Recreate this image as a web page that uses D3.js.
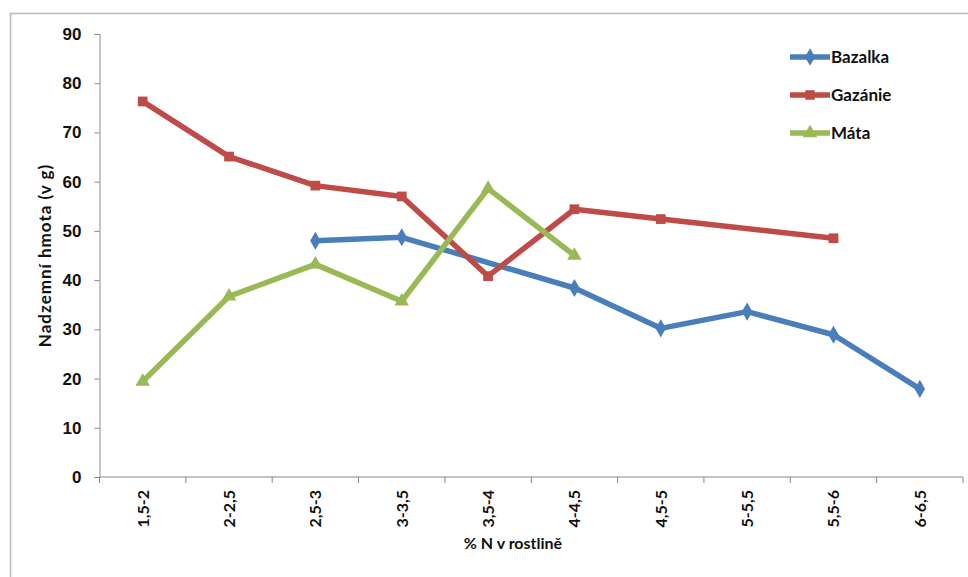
<!DOCTYPE html>
<html>
<head>
<meta charset="utf-8">
<script src="https://cdn.jsdelivr.net/npm/d3@7/dist/d3.min.js"></script>
<style>
  html, body { margin: 0; padding: 0; background: #fff; }
  svg { display: block; font-family: Lato, "Open Sans", sans-serif; font-weight: bold; }
</style>
</head>
<body>
<svg id="chart" width="968" height="577"></svg>
<script>
// Categories: nitrogen content ranges in the plant
const categories = ["1,5-2", "2-2,5", "2,5-3", "3-3,5", "3,5-4", "4-4,5", "4,5-5", "5-5,5", "5,5-6", "6-6,5"];

// Above-ground biomass (g); null = no measurement for that range
const bazalka = [null, null, 48.0, 48.7, null, 38.4, 30.2, 33.6, 28.9, 17.9];
const gazanie = [76.3, 65.1, 59.2, 57.0, 40.8, 54.4, 52.4, null, 48.5, null];
const mata    = [19.4, 36.7, 43.2, 35.7, 58.6, 45.0, null, null, null, null];

const yTicks = [0, 10, 20, 30, 40, 50, 60, 70, 80, 90];

const seriesNames = ["Bazalka", "Gazánie", "Máta"];
const seriesValues = [bazalka, gazanie, mata];
const seriesColors = ["#4a7ebb", "#be4b48", "#98b954"];
const seriesSymbols = [d3.symbolDiamond, d3.symbolSquare, d3.symbolTriangle];

const svg = d3.select("#chart");

// Chart area frame
svg.append("rect")
  .attr("x", 10.5).attr("y", 13.5)
  .attr("width", 968).attr("height", 577)
  .attr("fill", "#fff")
  .attr("stroke", "#b8b8b8")
  .attr("stroke-width", 1.5);

const plot = { left: 99.5, right: 963, top: 34, bottom: 477 };

const x = d3.scaleBand()
  .domain(categories)
  .range([plot.left, plot.right]);

const y = d3.scaleLinear()
  .domain([0, 90])
  .range([plot.bottom, plot.top]);

// Y axis
const yAxis = svg.append("g")
  .attr("transform", `translate(${plot.left},0)`)
  .call(d3.axisLeft(y).tickValues(yTicks).tickSize(5).tickPadding(13));
yAxis.select(".domain").attr("stroke", "#888").attr("stroke-width", 1);
yAxis.selectAll(".tick line").attr("stroke", "#888");
yAxis.selectAll(".tick text")
  .attr("fill", "#111")
  .style("font-size", "17px")
  .style("font-weight", "bold");

// X axis with tick marks on band boundaries
const xAxis = svg.append("g")
  .attr("transform", `translate(0,${plot.bottom})`);
xAxis.append("line")
  .attr("x1", plot.left).attr("x2", plot.right)
  .attr("stroke", "#888");
const boundaries = categories.map(c => x(c)).concat([plot.right]);
xAxis.selectAll("line.tick")
  .data(boundaries)
  .join("line")
  .attr("class", "tick")
  .attr("x1", d => d).attr("x2", d => d)
  .attr("y1", 0).attr("y2", 6)
  .attr("stroke", "#888");
xAxis.selectAll("text.cat")
  .data(categories)
  .join("text")
  .attr("class", "cat")
  .attr("transform", d => `translate(${x(d) + x.bandwidth() / 2 + 6},13) rotate(-90)`)
  .attr("text-anchor", "end")
  .attr("fill", "#111")
  .style("font-size", "16px")
  .text(d => d);

// Axis titles
svg.append("text")
  .attr("x", 513).attr("y", 549)
  .attr("text-anchor", "middle")
  .attr("fill", "#111")
  .style("font-size", "16px")
  .text("% N v rostlině");

svg.append("text")
  .attr("transform", `translate(51,${(plot.top + plot.bottom) / 2}) rotate(-90)`)
  .attr("text-anchor", "middle")
  .attr("fill", "#111")
  .style("font-size", "17px")
  .style("letter-spacing", "1px")
  .text("Nadzemní hmota (v g)");

// Series lines and markers
const cx = i => x(categories[i]) + x.bandwidth() / 2;
seriesValues.forEach((vals, s) => {
  const pts = vals.map((v, i) => ({ i, v })).filter(d => d.v !== null);
  const line = d3.line().x(d => cx(d.i)).y(d => y(d.v));
  svg.append("path")
    .datum(pts)
    .attr("d", line)
    .attr("fill", "none")
    .attr("stroke", seriesColors[s])
    .attr("stroke-width", 5.5)
    .attr("stroke-linejoin", "round");
  svg.selectAll(null)
    .data(pts)
    .join("path")
    .attr("transform", d => `translate(${cx(d.i)},${y(d.v)})`)
    .attr("d", d3.symbol().type(seriesSymbols[s]).size(s === 2 ? 90 : 95))
    .attr("fill", seriesColors[s]);
});

// Legend
const legend = svg.append("g");
seriesNames.forEach((name, s) => {
  const ly = 57 + s * 38;
  legend.append("line")
    .attr("x1", 790).attr("x2", 830)
    .attr("y1", ly).attr("y2", ly)
    .attr("stroke", seriesColors[s])
    .attr("stroke-width", 5.5);
  legend.append("path")
    .attr("transform", `translate(810,${ly})`)
    .attr("d", d3.symbol().type(seriesSymbols[s]).size(90))
    .attr("fill", seriesColors[s]);
  legend.append("text")
    .attr("x", 831).attr("y", ly + 6)
    .attr("fill", "#111")
    .style("font-size", "17px")
    .text(name);
});
</script>
</body>
</html>
